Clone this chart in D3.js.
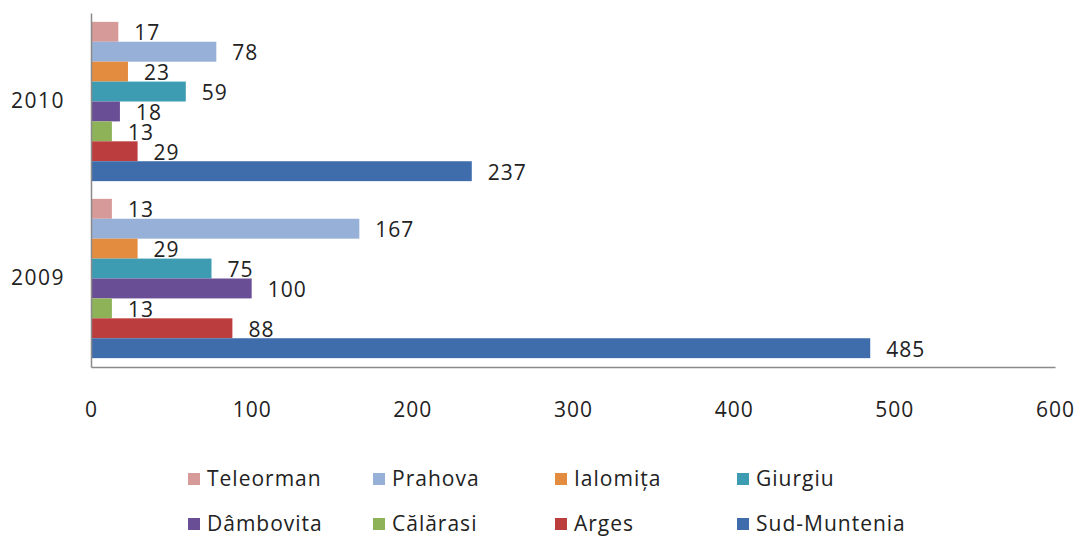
<!DOCTYPE html>
<html>
<head>
<meta charset="utf-8">
<script src="https://cdn.jsdelivr.net/npm/d3@7"></script>
<style>
  html, body { margin: 0; padding: 0; background: #fff; }
  svg { display: block; }
  text { font-family: "Open Sans", "Noto Sans", sans-serif; fill: #222; }
</style>
</head>
<body>
<svg id="chart" width="1083" height="537"></svg>
<script>
// ---- data ----
const years = ["2010", "2009"];
const counties = ["Teleorman", "Prahova", "Ialomița", "Giurgiu", "Dâmbovita", "Călărasi", "Arges", "Sud-Muntenia"];
const values2010 = [17, 78, 23, 59, 18, 13, 29, 237];
const values2009 = [13, 167, 29, 75, 100, 13, 88, 485];
const colors = ["#D69A99", "#97B0D8", "#E38B3E", "#3D9CB2", "#6A4E95", "#8DB257", "#BC3D3D", "#3F6DAC"];
const xTicks = [0, 100, 200, 300, 400, 500, 600];

const valuesByYear = { "2010": values2010, "2009": values2009 };

const svg = d3.select("#chart");

const x = d3.scaleLinear().domain([0, 600]).range([91, 1055]);
const y0 = d3.scaleBand().domain(years).range([13, 367]).paddingInner(0.1).paddingOuter(0.05);
const y1 = d3.scaleBand().domain(counties).range([0, y0.bandwidth()]).padding(0);
const color = d3.scaleOrdinal().domain(counties).range(colors);

const rows = [];
years.forEach(yr => counties.forEach((c, i) => rows.push({ year: yr, county: c, value: valuesByYear[yr][i] })));

// bars
svg.append("g").selectAll("rect").data(rows).join("rect")
  .attr("x", x(0))
  .attr("y", d => y0(d.year) + y1(d.county))
  .attr("width", d => x(d.value) - x(0))
  .attr("height", y1.bandwidth())
  .attr("fill", d => color(d.county));

// value labels
svg.append("g").selectAll("text").data(rows).join("text")
  .attr("x", d => x(d.value) + 16)
  .attr("y", d => y0(d.year) + y1(d.county) + y1.bandwidth() / 2 + 1)
  .attr("dy", "0.35em")
  .style("font-size", "21px")
  .style("letter-spacing", "1px")
  .text(d => d.value);

// x axis
const xAxis = svg.append("g").attr("transform", "translate(0,367)")
  .call(d3.axisBottom(x).tickValues(xTicks).tickSize(0).tickPadding(35));
xAxis.select(".domain").attr("stroke", "#8a8a8a").attr("stroke-width", 1.5);
xAxis.selectAll("text").style("font-size", "21px").style("letter-spacing", "1px")
  .style("font-family", '"Open Sans", sans-serif').attr("fill", "#222");

// y axis
const yAxis = svg.append("g").attr("transform", "translate(91,0)")
  .call(d3.axisLeft(y0).tickSize(0).tickPadding(26));
yAxis.select(".domain").attr("stroke", "#8a8a8a").attr("stroke-width", 1.5);
yAxis.selectAll("text").style("font-size", "21px").style("letter-spacing", "1.5px")
  .style("font-family", '"Open Sans", sans-serif').attr("fill", "#222");

// legend
const legX = [188, 373, 555, 737];
const legY = [479, 524];
const leg = svg.append("g").selectAll("g").data(counties).join("g")
  .attr("transform", (d, i) => `translate(${legX[i % 4]},${legY[Math.floor(i / 4)]})`);
leg.append("rect").attr("x", 0).attr("y", -6).attr("width", 12).attr("height", 12)
  .attr("fill", d => color(d));
leg.append("text").attr("x", 19).attr("y", 0).attr("dy", "0.35em")
  .style("font-size", "21px").style("letter-spacing", "1px")
  .text(d => d);
</script>
</body>
</html>
